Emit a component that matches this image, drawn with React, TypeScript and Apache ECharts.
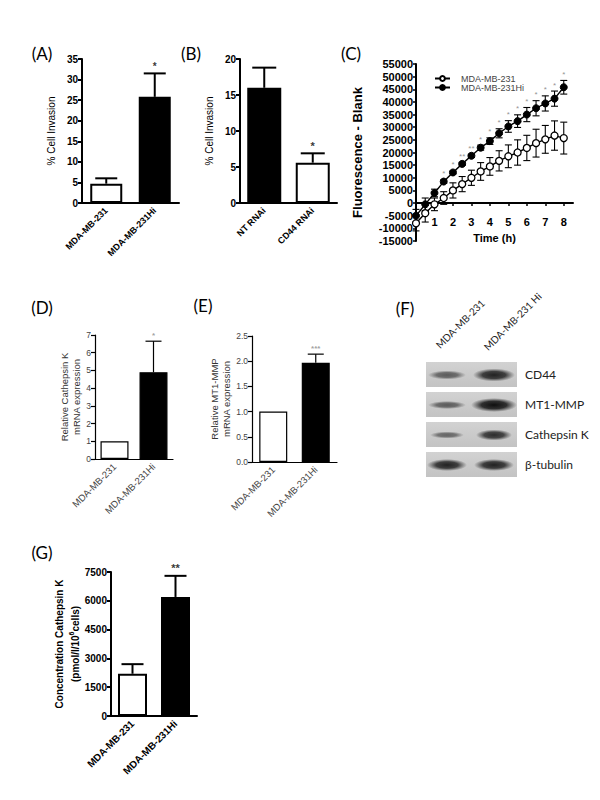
import React, { useEffect, useRef } from 'react';
import * as echarts from 'echarts';

const FONT = '"Liberation Sans", Arial, sans-serif';
const CAL = 'Lato';

// Panel A
const catsA = ['MDA-MB-231', 'MDA-MB-231Hi'];
const valsA = [4.7, 25.8];
const errA = [1.3, 5.7];
const starsA = ['', '*'];
// Panel B
const catsB = ['NT RNAi', 'CD44 RNAi'];
const valsB = [16.0, 5.6];
const errB = [2.8, 1.3];
const starsB = ['', '*'];
// Panel C
const timeC = [0, 0.5, 1, 1.5, 2, 2.5, 3, 3.5, 4, 4.5, 5, 5.5, 6, 6.5, 7, 7.5, 8];
const lowC = [-8000, -4000, -500, 2000, 5000, 7500, 10000, 12500, 14500, 16700, 18500, 20000, 21800, 23700, 25200, 26700, 25700];
const lowErrC = [3000, 3500, 2500, 2500, 3000, 3000, 3000, 3500, 3500, 4000, 4500, 5000, 5000, 5500, 5500, 5800, 6300];
const hiC = [-5000, -500, 4000, 8500, 12100, 15500, 18700, 21900, 24500, 27600, 30300, 32400, 35000, 37500, 39400, 41300, 45800];
const hiErrC = [2500, 2500, 1500, 700, 600, 600, 700, 1000, 1300, 1800, 2300, 2500, 2800, 3000, 3000, 3000, 2700];
const starsC = ['', '', '', '*', '*', '**', '**', '*', '*', '*', '*', '*', '*', '*', '*', '*', '*'];
const seriesNamesC = ['MDA-MB-231', 'MDA-MB-231Hi'];
const xLabelsC = [1, 2, 3, 4, 5, 6, 7, 8];
// Panel D
const catsD = ['MDA-MB-231', 'MDA-MB-231Hi'];
const valsD = [1.0, 4.9];
const errD = [0, 1.75];
const starsD = ['', '*'];
// Panel E
const catsE = ['MDA-MB-231', 'MDA-MB-231Hi'];
const valsE = [1.0, 1.97];
const errE = [0, 0.17];
const starsE = ['', '***'];
// Panel F (western blot)
const blotRows = ['CD44', 'MT1-MMP', 'Cathepsin K', 'β-tubulin'];
const blotLanes = ['MDA-MB-231', 'MDA-MB-231 Hi'];
const blotBandW = [[34, 38], [34, 42], [30, 32], [36, 36]];
const blotBandH = [[5, 9], [4, 10], [3, 7], [8, 8]];
const blotBandI = [[0.6, 0.9], [0.6, 1.0], [0.55, 0.85], [0.9, 0.9]];
// Panel G
const catsG = ['MDA-MB-231', 'MDA-MB-231Hi'];
const valsG = [2200, 6200];
const errG = [500, 1100];
const starsG = ['', '**'];

const fills = ['#ffffff', '#000000'];
const fillsB = ['#000000', '#ffffff'];

function errRender(capW: number, lw: number, color: string, both: boolean) {
  return (params: any, api: any) => {
    const x = api.value(0);
    const y = api.value(1);
    const e = api.value(2);
    if (!e) return { type: 'group', children: [] };
    const p0 = api.coord([x, both ? y - e : y]);
    const p1 = api.coord([x, y + e]);
    const hw = capW / 2;
    const st = { stroke: color, lineWidth: lw };
    const children: any[] = [
      { type: 'line', shape: { x1: p0[0], y1: p0[1], x2: p1[0], y2: p1[1] }, style: st },
      { type: 'line', shape: { x1: p1[0] - hw, y1: p1[1], x2: p1[0] + hw, y2: p1[1] }, style: st },
    ];
    if (both) children.push({ type: 'line', shape: { x1: p0[0] - hw, y1: p0[1], x2: p0[0] + hw, y2: p0[1] }, style: st });
    return { type: 'group', children };
  };
}

interface BarCfg {
  idx: number;
  grid: { left: number; top: number; width: number; height: number };
  cats: string[];
  vals: number[];
  errs: number[];
  stars: string[];
  colors: string[];
  max: number;
  interval: number;
  name: string;
  nameGap: number;
  nameStyle: any;
  bold: boolean;
  labelColor: string;
  tickSize: number;
  xSize: number;
  lw: number;
  barWidth: number;
  capW: number;
  starSize: number;
  starColor: string;
  decimals?: number;
}

function barPanel(c: BarCfg) {
  const weight = c.bold ? 'bold' : 'normal';
  const axisLine = { lineStyle: { color: '#000', width: c.lw } };
  const axisTick = { length: 4, lineStyle: { color: '#000', width: c.lw } };
  return {
    grid: { ...c.grid, containLabel: false, outerBoundsMode: 'none' },
    xAxis: {
      type: 'category', gridIndex: c.idx, data: c.cats,
      axisLine, axisTick: { ...axisTick, alignWithLabel: true },
      axisLabel: { rotate: 45, fontSize: c.xSize, fontWeight: weight, color: c.labelColor, fontFamily: FONT, margin: 6, interval: 0 },
      splitLine: { show: false },
    },
    yAxis: {
      type: 'value', gridIndex: c.idx, min: 0, max: c.max, interval: c.interval,
      axisLine: { show: true, ...axisLine }, axisTick: { show: true, ...axisTick },
      axisLabel: {
        fontSize: c.tickSize, fontWeight: weight, color: c.labelColor, fontFamily: FONT, margin: 4,
        formatter: (v: number) => (c.decimals ? v.toFixed(c.decimals) : String(v)),
      },
      splitLine: { show: false },
      name: c.name, nameLocation: 'middle', nameGap: c.nameGap, nameRotate: 90,
      nameTextStyle: c.nameStyle,
    },
    series: [
      {
        type: 'bar', name: 'bars' + c.idx, xAxisIndex: c.idx, yAxisIndex: c.idx, barWidth: c.barWidth,
        data: c.vals.map((v, i) => ({ value: v, itemStyle: { color: c.colors[i], borderColor: '#000', borderWidth: c.lw } })),
        z: 2,
      },
      {
        type: 'custom', name: 'err' + c.idx, xAxisIndex: c.idx, yAxisIndex: c.idx,
        renderItem: errRender(c.capW, c.lw, '#000', false),
        encode: { x: 0, y: 1 },
        data: c.vals.map((v, i) => [i, v, c.errs[i]]),
        z: 3,
      },
      {
        type: 'scatter', name: 'stars' + c.idx, xAxisIndex: c.idx, yAxisIndex: c.idx, symbolSize: 0,
        data: c.vals.map((v, i) => ({ value: [i, v + c.errs[i]], name: c.stars[i] })),
        label: { show: true, position: 'top', distance: 2, formatter: '{b}', fontSize: c.starSize, color: c.starColor, fontFamily: FONT, fontWeight: 'bold' },
        z: 4,
      },
    ],
  };
}

function buildOption() {
  const boldName = (size: number) => ({ fontSize: size, fontWeight: 'bold', color: '#000', fontFamily: FONT });
  const panels = [
    barPanel({
      idx: 0, grid: { left: 82, top: 59, width: 97, height: 144 }, cats: catsA, vals: valsA, errs: errA, stars: starsA,
      colors: fills, max: 35, interval: 5, name: '% Cell Invasion', nameGap: 26,
      nameStyle: { fontSize: 10, color: '#000', fontFamily: FONT }, bold: true, labelColor: '#000', tickSize: 10, xSize: 9,
      lw: 2, barWidth: 32, capW: 22, starSize: 10, starColor: '#000',
    }),
    barPanel({
      idx: 1, grid: { left: 240, top: 59, width: 97, height: 144 }, cats: catsB, vals: valsB, errs: errB, stars: starsB,
      colors: fillsB, max: 20, interval: 5, name: '% Cell Invasion', nameGap: 26,
      nameStyle: { fontSize: 10, color: '#000', fontFamily: FONT }, bold: true, labelColor: '#000', tickSize: 10, xSize: 9,
      lw: 2, barWidth: 34, capW: 24, starSize: 11, starColor: '#000',
    }),
    barPanel({
      idx: 3, grid: { left: 95, top: 335, width: 78, height: 124 }, cats: catsD, vals: valsD, errs: errD, stars: starsD,
      colors: fills, max: 7, interval: 1, name: 'Relative Cathepsin K\nmRNA expression', nameGap: 12,
      nameStyle: { fontSize: 9.5, color: '#333', fontFamily: FONT, lineHeight: 12 }, bold: false, labelColor: '#444', tickSize: 8.5, xSize: 9.5,
      lw: 1.2, barWidth: 28, capW: 16, starSize: 8, starColor: '#888',
    }),
    barPanel({
      idx: 4, grid: { left: 252, top: 336, width: 85, height: 126 }, cats: catsE, vals: valsE, errs: errE, stars: starsE,
      colors: fills, max: 2.5, interval: 0.5, name: 'Relative MT1-MMP\nmRNA expression', nameGap: 17,
      nameStyle: { fontSize: 9.5, color: '#333', fontFamily: FONT, lineHeight: 12 }, bold: false, labelColor: '#444', tickSize: 8.5, xSize: 9.5,
      lw: 1.2, barWidth: 28, capW: 16, starSize: 8, starColor: '#888', decimals: 1,
    }),
    barPanel({
      idx: 5, grid: { left: 111, top: 572, width: 86, height: 144 }, cats: catsG, vals: valsG, errs: errG, stars: starsG,
      colors: fills, max: 7500, interval: 1500,
      name: '{t|Concentration Cathepsin K}\n{t|(pmol/l/10}{s|6}{t|cells)}', nameGap: 24,
      nameStyle: {
        fontSize: 10, fontWeight: 'bold', color: '#000', fontFamily: FONT,
        rich: {
          t: { fontSize: 10, fontWeight: 'bold', color: '#000', fontFamily: FONT, lineHeight: 16 },
          s: { fontSize: 7, fontWeight: 'bold', color: '#000', fontFamily: FONT, lineHeight: 16, verticalAlign: 'top', padding: [0, 0, 5, 0] },
        },
      },
      bold: true, labelColor: '#000', tickSize: 10, xSize: 10,
      lw: 2, barWidth: 29, capW: 22, starSize: 11, starColor: '#000',
    }),
  ];

  // Panel C
  const gridC = { left: 416, top: 64, width: 157, height: 177, containLabel: false, outerBoundsMode: 'none' };
  const xAxisC = {
    type: 'value', gridIndex: 2, min: 0, max: 8.5, interval: 1, position: 'bottom', offset: -38,
    axisLine: { onZero: false, lineStyle: { color: '#000', width: 2 } },
    axisTick: { length: 3, lineStyle: { color: '#000', width: 1.5 }, customValues: [0, 1, 2, 3, 4, 5, 6, 7, 8] },
    axisLabel: {
      fontSize: 11, fontWeight: 'bold', color: '#000', fontFamily: FONT, margin: 13, customValues: xLabelsC,
      formatter: (v: number) => (v === 0 || v % 1 !== 0 ? '' : String(v)),
    },
    splitLine: { show: false },
    name: 'Time (h)', nameLocation: 'middle', nameGap: 29,
    nameTextStyle: boldName(11),
  };
  const yAxisC = {
    type: 'value', gridIndex: 2, min: -15000, max: 55000, interval: 5000,
    axisLine: { show: true, lineStyle: { color: '#000', width: 2 } },
    axisTick: { show: true, length: 3, lineStyle: { color: '#000', width: 1.5 } },
    axisLabel: { fontSize: 11, fontWeight: 'bold', color: '#000', fontFamily: FONT, margin: 3, formatter: (v: number) => String(v) },
    splitLine: { show: false },
    name: 'Fluorescence - Blank', nameLocation: 'middle', nameGap: 52, nameRotate: 90,
    nameTextStyle: boldName(13),
  };
  const seriesC: any[] = [
    {
      type: 'custom', name: 'errLow', xAxisIndex: 2, yAxisIndex: 2, encode: { x: 0, y: 1 },
      renderItem: errRender(7, 1.1, '#000', true),
      data: timeC.map((t, i) => [t, lowC[i], lowErrC[i]]), z: 2,
    },
    {
      type: 'custom', name: 'errHi', xAxisIndex: 2, yAxisIndex: 2, encode: { x: 0, y: 1 },
      renderItem: errRender(7, 1.1, '#000', true),
      data: timeC.map((t, i) => [t, hiC[i], hiErrC[i]]), z: 2,
    },
    {
      type: 'line', name: seriesNamesC[0], xAxisIndex: 2, yAxisIndex: 2, symbol: 'circle', symbolSize: 7,
      lineStyle: { color: '#000', width: 1.4 }, itemStyle: { color: '#fff', borderColor: '#000', borderWidth: 1.3 },
      data: timeC.map((t, i) => [t, lowC[i]]), z: 3,
    },
    {
      type: 'line', name: seriesNamesC[1], xAxisIndex: 2, yAxisIndex: 2, symbol: 'circle', symbolSize: 7,
      lineStyle: { color: '#000', width: 1.4 }, itemStyle: { color: '#000', borderColor: '#000', borderWidth: 1 },
      data: timeC.map((t, i) => [t, hiC[i]]), z: 3,
    },
    {
      type: 'scatter', name: 'starsC', xAxisIndex: 2, yAxisIndex: 2, symbolSize: 0,
      data: timeC.map((t, i) => ({ value: [t, hiC[i] + hiErrC[i]], name: starsC[i] })),
      label: { show: true, position: 'top', distance: 2, formatter: '{b}', fontSize: 8, color: '#777', fontFamily: FONT },
      z: 4,
    },
  ];

  // Panel F graphics
  const boxX = 426, boxW = 91, boxH = 25, boxY0 = 362, boxStep = 30;
  const laneX = [447, 494];
  const graphics: any[] = [];
  blotRows.forEach((row, r) => {
    const y = boxY0 + r * boxStep;
    graphics.push({
      type: 'rect', shape: { x: boxX, y, width: boxW, height: boxH },
      style: {
        fill: {
          type: 'linear', x: 0, y: 0, x2: 0, y2: 1,
          colorStops: [{ offset: 0, color: '#d2d2d2' }, { offset: 1, color: '#c3c3c3' }],
        },
      },
    });
    laneX.forEach((cx, l) => {
      const w = blotBandW[r][l];
      const h = blotBandH[r][l];
      const a = blotBandI[r][l];
      graphics.push({
        type: 'ellipse', shape: { cx, cy: y + boxH / 2 + 0.5, rx: w / 2 + 2, ry: h / 2 + 2 },
        style: {
          fill: {
            type: 'radial', x: 0.5, y: 0.5, r: 0.5,
            colorStops: [
              { offset: 0, color: `rgba(15,15,15,${a})` },
              { offset: 0.55, color: `rgba(20,20,20,${a * 0.85})` },
              { offset: 1, color: 'rgba(40,40,40,0)' },
            ],
          },
        },
      });
    });
    graphics.push({
      type: 'text', x: 525, y: y + boxH / 2,
      style: { text: row, fontSize: 12, fontFamily: CAL, fill: '#222', verticalAlign: 'middle', align: 'left' },
    });
  });
  const laneStart = [[441, 350], [489, 352]];
  blotLanes.forEach((lab, l) => {
    graphics.push({
      type: 'text', x: laneStart[l][0], y: laneStart[l][1], rotation: Math.PI / 4,
      style: { text: lab, fontSize: 10, fontFamily: CAL, fill: '#222', align: 'left', verticalAlign: 'bottom' },
    });
  });
  const panelLabels = [['(A)', 42, 53], ['(B)', 191, 53], ['(C)', 351, 53], ['(D)', 42, 307], ['(E)', 203, 305], ['(F)', 405, 308], ['(G)', 42, 552]];
  panelLabels.forEach(([t, x, y]) => {
    graphics.push({
      type: 'text', x, y,
      style: { text: t, fontSize: 17, fontFamily: CAL, fill: '#000', align: 'center', verticalAlign: 'middle' },
    });
  });

  const p = panels;
  return {
    animation: false,
    backgroundColor: '#fff',
    textStyle: { fontFamily: FONT },
    grid: [p[0].grid, p[1].grid, gridC, p[2].grid, p[3].grid, p[4].grid],
    xAxis: [p[0].xAxis, p[1].xAxis, xAxisC, p[2].xAxis, p[3].xAxis, p[4].xAxis],
    yAxis: [p[0].yAxis, p[1].yAxis, yAxisC, p[2].yAxis, p[3].yAxis, p[4].yAxis],
    legend: {
      data: seriesNamesC, left: 429, top: 69, orient: 'vertical', itemWidth: 15, itemHeight: 6, itemGap: 0,
      textStyle: { fontSize: 9, color: '#444', fontFamily: FONT, lineHeight: 9, padding: [0, 0, 0, 6] }, selectedMode: false,
    },
    series: [...p[0].series, ...p[1].series, ...seriesC, ...p[2].series, ...p[3].series, ...p[4].series],
    graphic: graphics,
  };
}

export default function App() {
  const ref = useRef<HTMLDivElement>(null);
  useEffect(() => {
    if (!ref.current) return;
    const chart = echarts.init(ref.current, undefined, { renderer: 'svg' });
    chart.setOption(buildOption() as any);
    return () => chart.dispose();
  }, []);
  return <div ref={ref} style={{ position: 'absolute', left: 0, top: 0, width: 600, height: 800, background: '#fff' }} />;
}
